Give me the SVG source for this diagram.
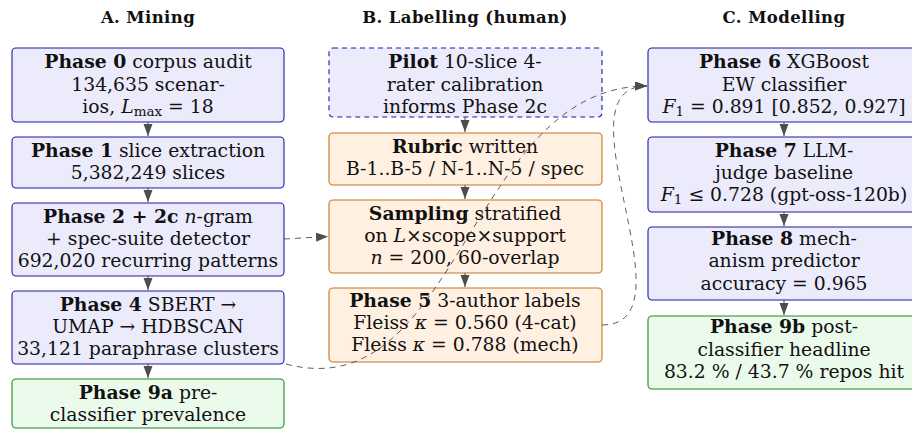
<svg xmlns="http://www.w3.org/2000/svg" width="912" height="430" viewBox="0 0 912 430">
<defs>
<marker id="ah" markerUnits="userSpaceOnUse" markerWidth="12" markerHeight="10" refX="12" refY="4.5" orient="auto">
<path d="M0,0 L12,4.5 L0,9 z" fill="#4d4d4d"/>
</marker>
<style>
text{font-family:"DejaVu Serif","Liberation Serif",serif;font-size:18.8px;text-anchor:middle;fill:#111}
.h{font-weight:bold;font-size:16.5px;letter-spacing:0.4px}
.b{font-weight:bold}
.i{font-style:italic}
.sub{font-size:13.5px}
.blue rect{fill:#ebebfc;stroke:#1a1aa6;stroke-width:1.1}
.orange rect{fill:#fff0e1;stroke:#c8731e;stroke-width:1.1}
.green rect{fill:#ebfbeb;stroke:#1f8a1f;stroke-width:1.1}
.dash rect{stroke-dasharray:5 4}
.arr{stroke:#4d4d4d;stroke-width:1;fill:none;marker-end:url(#ah)}
.dl{stroke:#4d4d4d;stroke-width:0.9;fill:none;stroke-dasharray:6 5;marker-end:url(#ah)}
</style>
</defs>
<rect width="912" height="430" fill="#fff"/>
<g id="titles">
<text class="h" x="148" y="23">A. Mining</text>
<text class="h" x="465" y="23">B. Labelling (human)</text>
<text class="h" x="784" y="23">C. Modelling</text>
</g>
<g id="p0" class="blue"><rect x="12" y="48" width="272" height="74" rx="4"/>
<text x="148" y="68"><tspan class="b">Phase 0</tspan> corpus audit</text>
<text x="148" y="90.5">134,635 scenar-</text>
<text x="148" y="113">ios, <tspan class="i">L</tspan><tspan class="sub" dy="3">max</tspan><tspan dy="-3"> = 18</tspan></text></g>
<g id="p1" class="blue"><rect x="12" y="137" width="272" height="51" rx="4"/>
<text x="148" y="157"><tspan class="b">Phase 1</tspan> slice extraction</text>
<text x="148" y="179">5,382,249 slices</text></g>
<g id="p2" class="blue"><rect x="12" y="203" width="272" height="73" rx="4"/>
<text x="148" y="223"><tspan class="b">Phase 2 + 2c</tspan> <tspan class="i">n</tspan>-gram</text>
<text x="148" y="245">+ spec-suite detector</text>
<text x="148" y="267">692,020 recurring patterns</text></g>
<g id="p4" class="blue"><rect x="12" y="291" width="272" height="73" rx="4"/>
<text x="148" y="311"><tspan class="b">Phase 4</tspan> SBERT →</text>
<text x="148" y="333">UMAP → HDBSCAN</text>
<text x="148" y="355">33,121 paraphrase clusters</text></g>
<g id="p9a" class="green"><rect x="12" y="379" width="272" height="49" rx="4"/>
<text x="148" y="399"><tspan class="b">Phase 9a</tspan> pre-</text>
<text x="148" y="421">classifier prevalence</text></g>
<g id="pilot" class="blue dash"><rect x="329" y="48" width="273" height="69" rx="4"/>
<text x="465" y="68"><tspan class="b">Pilot</tspan> 10-slice 4-</text>
<text x="465" y="90.5">rater calibration</text>
<text x="465" y="113">informs Phase 2c</text></g>
<g id="rubric" class="orange"><rect x="329" y="133" width="273" height="52" rx="4"/>
<text x="465" y="153"><tspan class="b">Rubric</tspan> written</text>
<text x="465" y="175">B-1..B-5 / N-1..N-5 / spec</text></g>
<g id="sampling" class="orange"><rect x="329" y="200" width="273" height="73" rx="4"/>
<text x="465" y="220"><tspan class="b">Sampling</tspan> stratified</text>
<text x="465" y="242">on <tspan class="i">L</tspan>×scope×support</text>
<text x="465" y="264"><tspan class="i">n</tspan> = 200, 60-overlap</text></g>
<g id="p5" class="orange"><rect x="329" y="288" width="273" height="74" rx="4"/>
<text x="465" y="307"><tspan class="b">Phase 5</tspan> 3-author labels</text>
<text x="465" y="329">Fleiss <tspan class="i">κ</tspan> = 0.560 (4-cat)</text>
<text x="465" y="351">Fleiss <tspan class="i">κ</tspan> = 0.788 (mech)</text></g>
<g id="p6" class="blue"><rect x="648" y="48" width="273" height="74" rx="4"/>
<text x="784" y="68"><tspan class="b">Phase 6</tspan> XGBoost</text>
<text x="784" y="90.5">EW classifier</text>
<text x="784" y="113"><tspan class="i">F</tspan><tspan class="sub" dy="3">1</tspan><tspan dy="-3"> = 0.891 [0.852, 0.927]</tspan></text></g>
<g id="p7" class="blue"><rect x="648" y="137" width="273" height="75" rx="4"/>
<text x="784" y="157"><tspan class="b">Phase 7</tspan> LLM-</text>
<text x="784" y="179">judge baseline</text>
<text x="784" y="201"><tspan class="i">F</tspan><tspan class="sub" dy="3">1</tspan><tspan dy="-3"> ≤ 0.728 (gpt-oss-120b)</tspan></text></g>
<g id="p8" class="blue"><rect x="648" y="227" width="273" height="73" rx="4"/>
<text x="784" y="245"><tspan class="b">Phase 8</tspan> mech-</text>
<text x="784" y="267">anism predictor</text>
<text x="784" y="290">accuracy = 0.965</text></g>
<g id="p9b" class="green"><rect x="648" y="316" width="273" height="73" rx="4"/>
<text x="784" y="333"><tspan class="b">Phase 9b</tspan> post-</text>
<text x="784" y="356">classifier headline</text>
<text x="784" y="378">83.2 % / 43.7 % repos hit</text></g>
<g id="connectors">
<path class="arr" d="M148 122 V136"/>
<path class="arr" d="M148 188 V202"/>
<path class="arr" d="M148 276 V290"/>
<path class="arr" d="M148 364 V378"/>
<path class="arr" d="M465 117 V132"/>
<path class="arr" d="M465 185 V199"/>
<path class="arr" d="M465 273 V287"/>
<path class="arr" d="M784 122 V136"/>
<path class="arr" d="M784 212 V226"/>
<path class="arr" d="M784 300 V315"/>
<path class="dl" d="M284 239 L328 236.5"/>
<path class="dl" d="M286 364 C459 410 469 86 647 86"/>
<path class="dl" d="M602 325 C697 325 553 86 647 86"/>
</g>
</svg>
